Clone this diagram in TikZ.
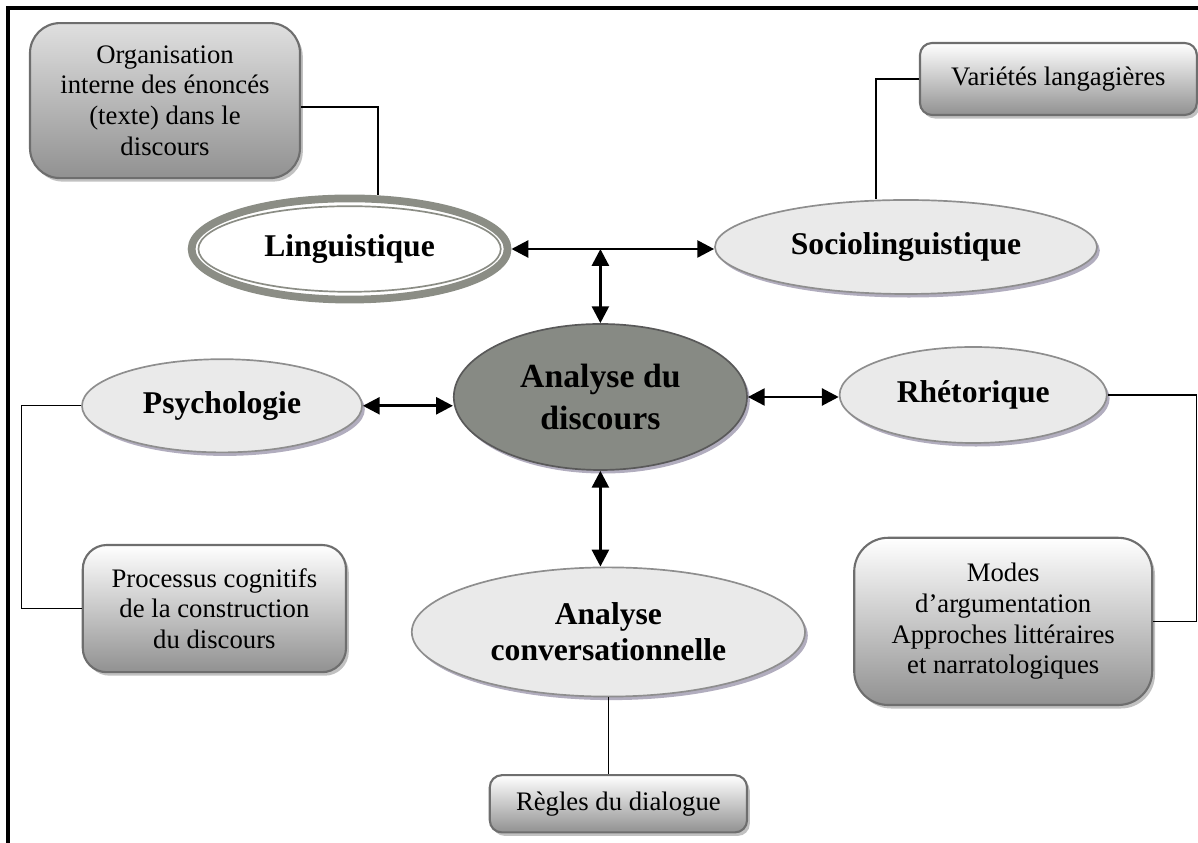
\documentclass[tikz,border=0pt]{standalone}
\usepackage{fontspec}
\setmainfont{Liberation Serif}
\usetikzlibrary{shapes.geometric, arrows.meta, shadows, calc}

\definecolor{bandgray}{HTML}{8B8D85}
\definecolor{rimgray}{HTML}{8E8E8E}
\definecolor{marble}{HTML}{EAEAEA}
\definecolor{coregray}{HTML}{878A84}
\definecolor{shadowlilac}{HTML}{9E98AE}
\definecolor{boxedge}{HTML}{6E6E6E}
\definecolor{boxbottom}{HTML}{919191}

\begin{document}
\begin{tikzpicture}[
		field/.style={ellipse, draw=rimgray, line width=1.2pt, fill=marble, inner sep=0pt, align=center,
			font=\fontsize{22.5}{25.6}\selectfont\bfseries,
			drop shadow={shadow xshift=2pt, shadow yshift=-2.5pt, fill=shadowlilac, opacity=0.8}},
		topic/.style={rectangle, rounded corners=0.6cm, draw=boxedge, line width=1.5pt, top color=white,
			bottom color=boxbottom, inner sep=0pt, align=center, font=\fontsize{19}{21.8}\selectfont,
			drop shadow={shadow xshift=2pt, shadow yshift=-2.5pt, fill=gray!60, opacity=0.8}},
		twoway/.style={{Triangle[length=12pt,width=12pt]}-{Triangle[length=12pt,width=12pt]}, line width=2.1pt},
		link/.style={line width=0.9pt}
	]
	\useasboundingbox (0,0) rectangle (29.95,21.075);
	
	% Frame (top and left edges only)
	\draw[line width=2.2pt] (0.2,0) -- (0.2,20.875) -- (29.95,20.875);
	
	% Fields
	\node[ellipse, draw=bandgray, line width=5.5pt, fill=white, inner sep=0pt, minimum width=7.9cm, minimum height=2.53cm,
		font=\fontsize{22.5}{25.6}\selectfont\bfseries] (ling) at (8.74,14.85) {Linguistique};
	\draw[bandgray, line width=1.2pt] (ling.center) ellipse [x radius=3.78cm, y radius=1.07cm];
	\node[field, minimum width=9.55cm, minimum height=2.35cm] (socio) at (22.65,14.9) {Sociolinguistique};
	\node[field, fill=coregray, draw=black!65, minimum width=7.33cm, minimum height=3.65cm,
		font=\fontsize{24}{30}\selectfont\bfseries] (core) at (15.01,11.15) {Analyse du\\discours};
	\node[field, minimum width=7.0cm, minimum height=2.33cm] (psycho) at (5.55,10.93) {Psychologie};
	\node[field, minimum width=6.68cm, minimum height=2.4cm] (rhet) at (24.33,11.2) {Rhétorique};
	\node[field, minimum width=9.83cm, minimum height=3.23cm] (conv) at (15.21,5.275) {Analyse\\conversationnelle};
	
	% Topics
	\node[topic, top color=gray!25, rounded corners=0.75cm, minimum width=6.75cm, minimum height=3.875cm] (orga) at (4.125,18.56)
		{Organisation\\interne des énoncés\\(texte) dans le\\discours};
	\node[topic, rounded corners=0.3cm, minimum width=6.92cm, minimum height=1.8cm] (variet) at (26.46,19.1) {Variétés langagières};
	\node[topic, minimum width=6.58cm, minimum height=3.18cm] (cogn) at (5.36,5.86)
		{Processus cognitifs\\de la construction\\du discours};
	\node[topic, rounded corners=0.85cm, minimum width=7.45cm, minimum height=4.18cm] (modes) at (25.08,5.54)
		{Modes\\d’argumentation\\Approches littéraires\\et narratologiques};
	\node[topic, rounded corners=0.3cm, minimum width=6.43cm, minimum height=1.43cm] (regles) at (15.46,0.98) {Règles du dialogue};
	
	% Two-way arrows
	\draw[twoway] (ling.east) -- (ling.east -| socio.west);
	\draw[twoway] (core.north) -- (core.north |- ling.east);
	\draw[twoway] (psycho.east) -- (psycho.east -| core.west);
	\draw[twoway] (core.east) -- (core.east -| rhet.west);
	\draw[twoway] (core.south) -- (core.south |- conv.north);
	
	% Links to topics
	\draw[link] ([yshift=-0.16cm]orga.east) -| ([xshift=0.71cm]ling.north);
	\draw[link] (variet.west) -| ([xshift=-0.75cm]socio.north);
	\draw[link] (psycho.west) -- ++(-1.5,0) |- (cogn.west);
	\draw[link] (rhet.east) -- ++(2.23,0) |- (modes.east);
	\draw[link] (conv.south) -- (conv.south |- regles.north);
	
\end{tikzpicture}
\end{document}
